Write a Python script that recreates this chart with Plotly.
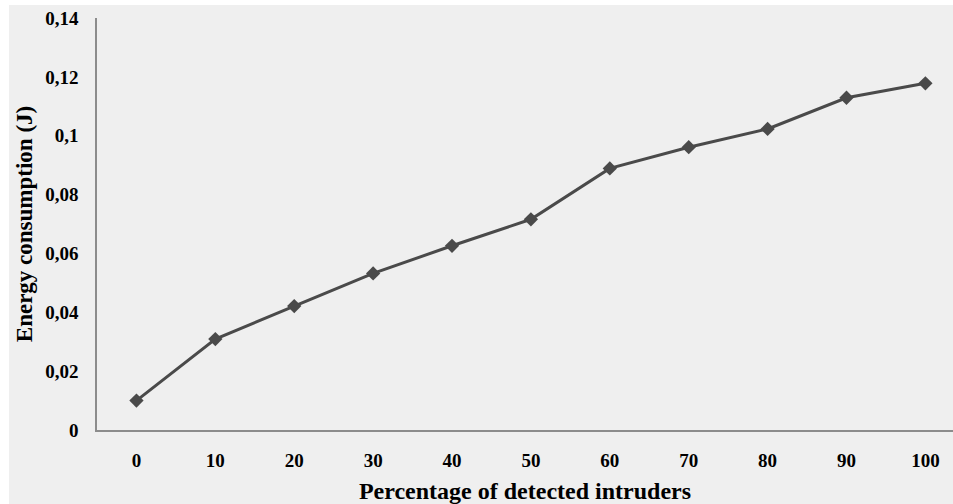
import plotly.graph_objects as go

categories = ["0", "10", "20", "30", "40", "50", "60", "70", "80", "90", "100"]
energy = [0.0100, 0.0309, 0.0421, 0.0532, 0.0626, 0.0716, 0.0889, 0.0961, 0.1023, 0.1129, 0.1178]
y_ticks = [0, 0.02, 0.04, 0.06, 0.08, 0.10, 0.12, 0.14]
y_tick_labels = ["0", "0,02", "0,04", "0,06", "0,08", "0,1", "0,12", "0,14"]

W, H = 953, 504
L, R, T, B = 97, 0, 18, 74
pw, ph = W - L - R, H - T - B

def px_x(p):
    return (p - L) / pw

def px_y(p):
    return (H - B - p) / ph

FONT = "Liberation Serif"

fig = go.Figure()
fig.add_trace(go.Scatter(
    x=list(range(len(categories))), y=energy, mode="lines+markers",
    line=dict(color="#4a4a4a", width=3),
    marker=dict(symbol="diamond", size=11, color="#4a4a4a"),
    showlegend=False, hoverinfo="skip",
))

# grey panel with white strips at top and left
fig.add_shape(type="rect", xref="paper", yref="paper",
              x0=px_x(9), x1=px_x(W + 5), y0=px_y(H + 5), y1=px_y(5),
              fillcolor="#efefef", line=dict(width=0), layer="below")

fig.update_layout(
    width=W, height=H,
    margin=dict(l=L, r=R, t=T, b=B),
    paper_bgcolor="white",
    plot_bgcolor="rgba(0,0,0,0)",
    font=dict(family=FONT, color="black"),
    xaxis=dict(
        tickmode="array", tickvals=list(range(len(categories))), ticktext=categories,
        range=[-0.5, 10.35], showgrid=False, zeroline=False,
        showline=True, linecolor="#8c8c8c", linewidth=1.5,
        ticks="", ticklabelstandoff=12,
        tickfont=dict(family=FONT, size=19, color="black", weight="bold"),
        title=dict(text="<b>Percentage of detected intruders</b>",
                   font=dict(family=FONT, size=24, color="black"), standoff=14),
    ),
    yaxis=dict(
        tickmode="array", tickvals=y_ticks, ticktext=y_tick_labels,
        range=[0, 0.14], showgrid=False, zeroline=False,
        showline=True, linecolor="#8c8c8c", linewidth=1.5,
        ticks="", ticklabelstandoff=13,
        tickfont=dict(family=FONT, size=19, color="black", weight="bold"),
        title=dict(text="<b>Energy consumption (J)</b>",
                   font=dict(family=FONT, size=23, color="black"), standoff=6),
    ),
)

fig.write_html("out.html", config={"displayModeBar": False},
               post_script="document.body.style.margin='0';document.body.style.overflow='hidden';")
